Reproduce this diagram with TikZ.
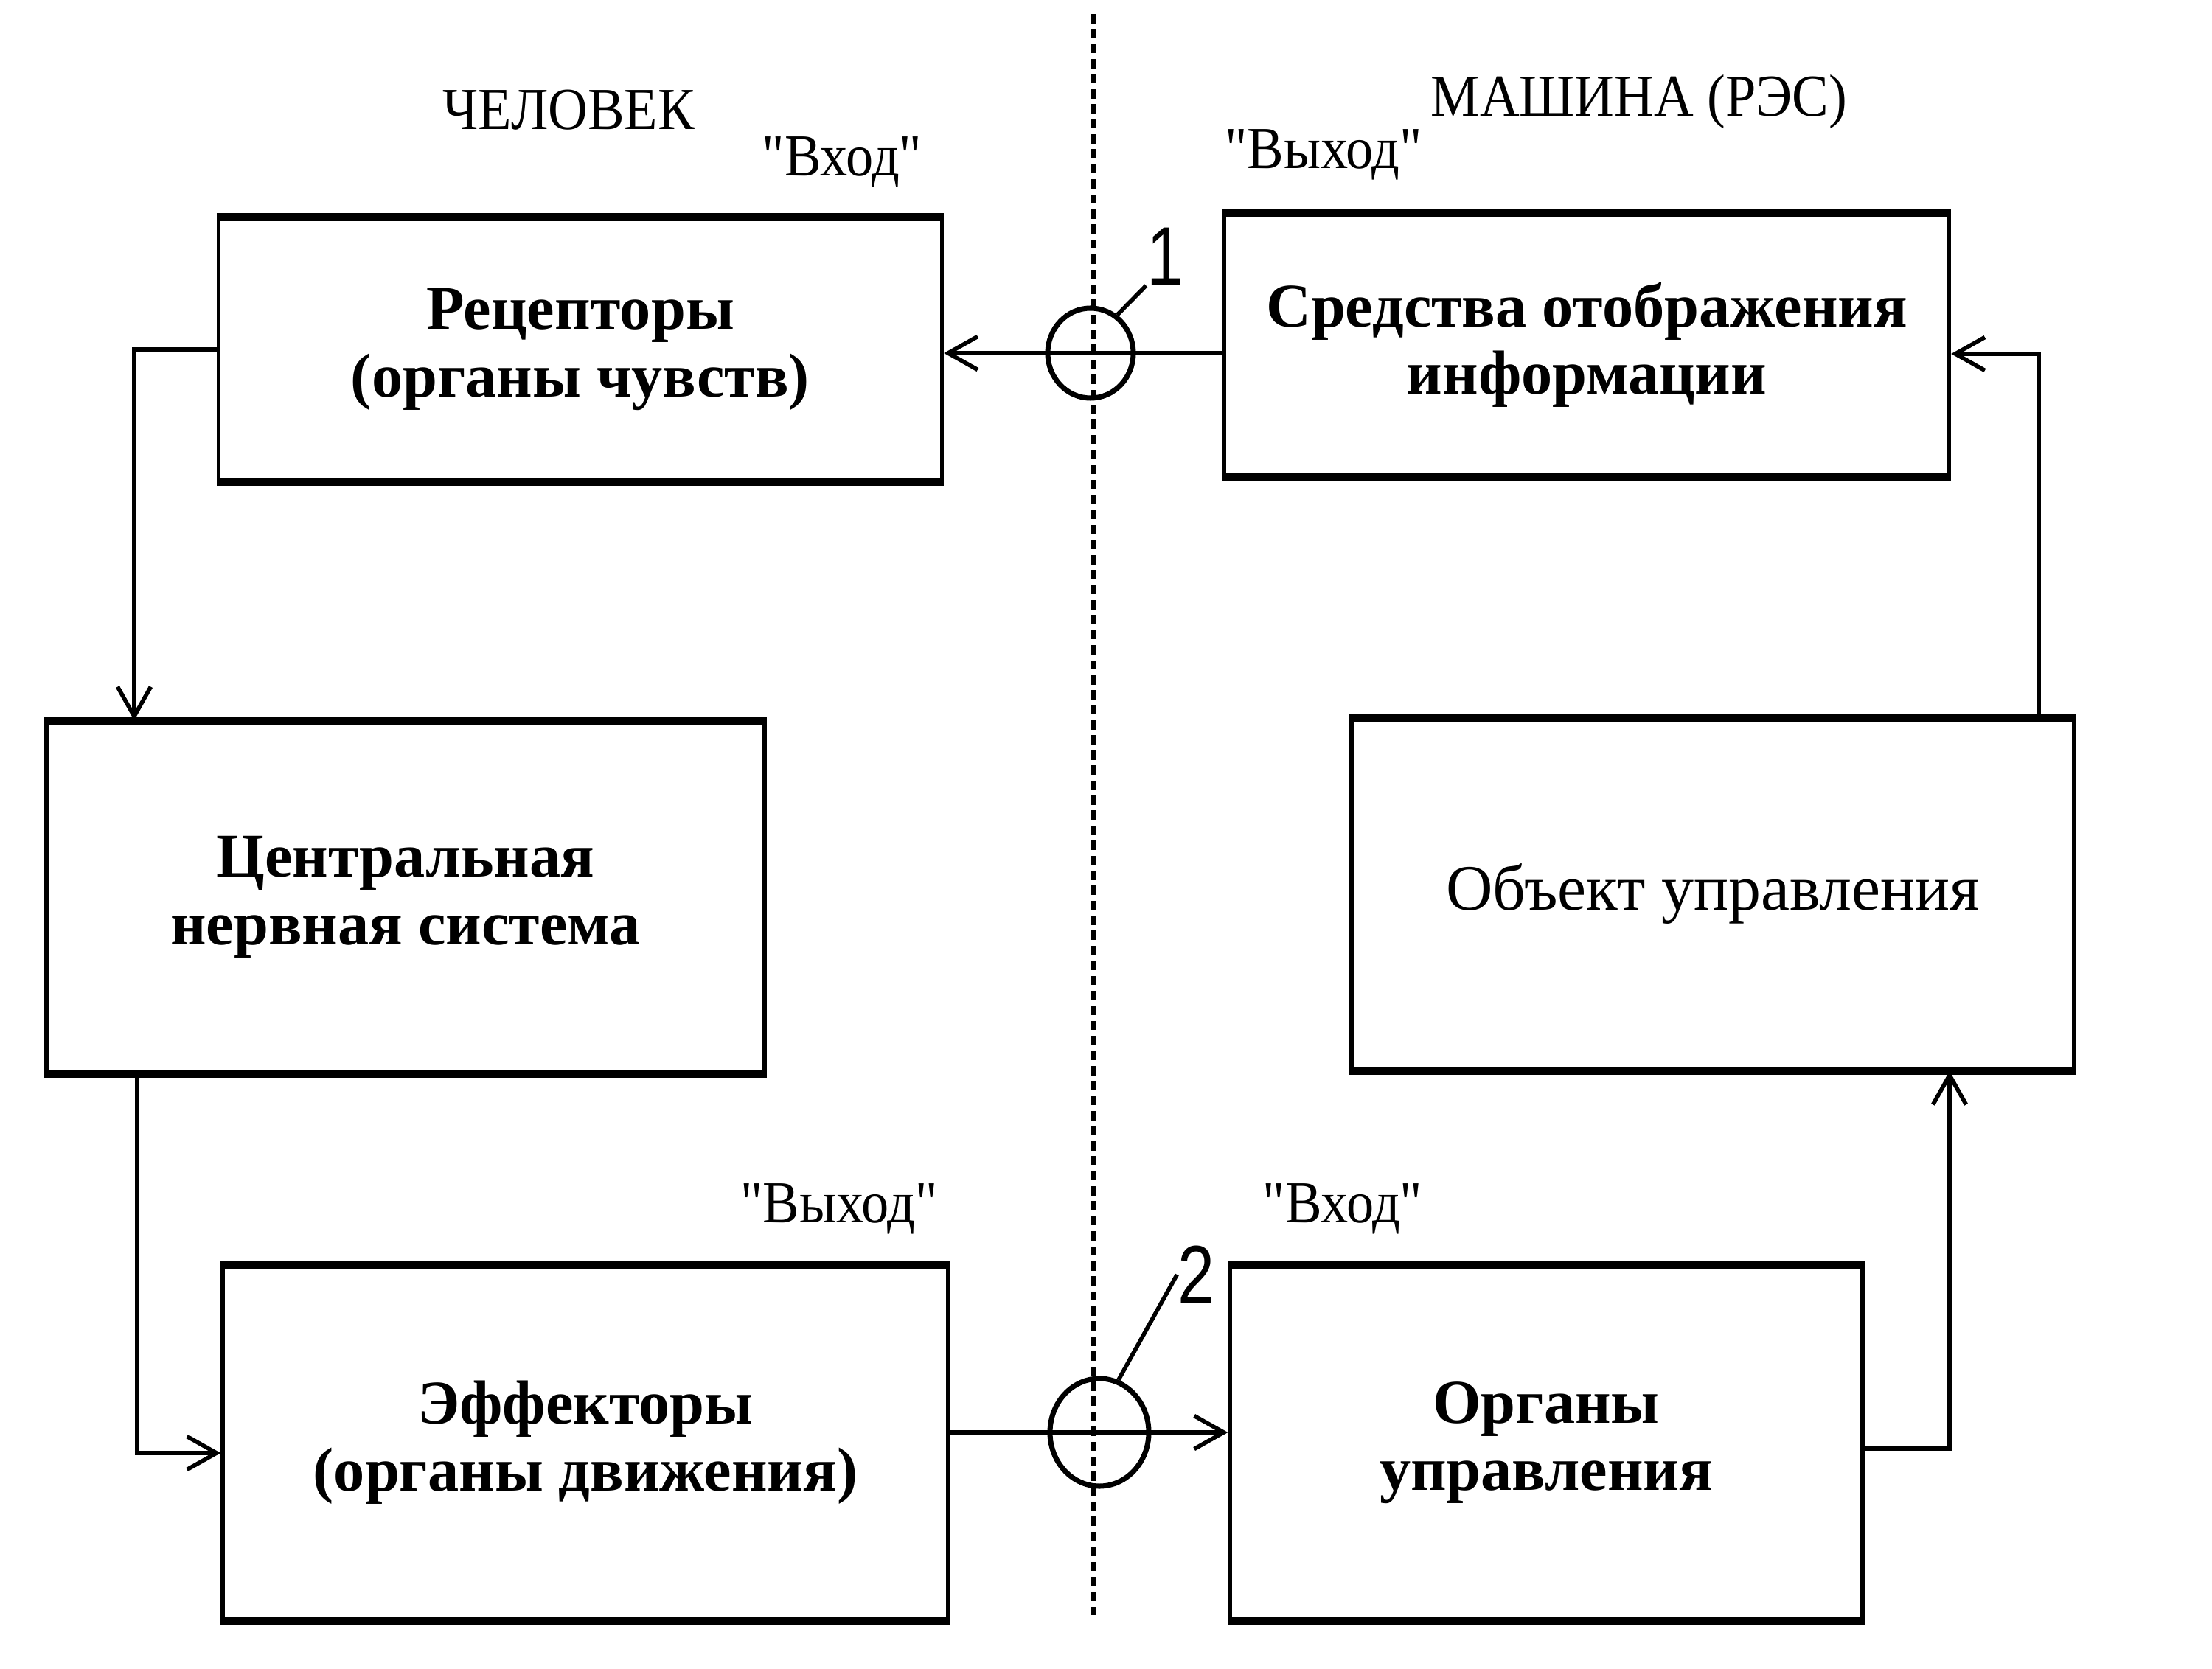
\documentclass[tikz,border=0pt]{standalone}
\usepackage{fontspec}
\setmainfont{Liberation Serif}
\newfontfamily\narrowfont[FakeStretch=0.92]{Liberation Serif}
\newfontfamily\numfont[FakeStretch=0.8]{Liberation Sans}
\usetikzlibrary{arrows.meta,shapes.geometric}

\begin{document}
\begin{tikzpicture}[
		>={Straight Barb[length=4mm,width=4.5mm]},
		blok/.style={draw, line width=1.5pt, align=center, font=\fontsize{24}{26}\selectfont\bfseries},
		svyaz/.style={line width=1.6pt},
		krug/.style={draw, ellipse, line width=2pt, inner sep=0pt},
		nadpis/.style={font=\narrowfont\fontsize{23}{25}\selectfont},
		nomer/.style={font=\numfont\fontsize{32}{32}\selectfont, inner sep=0pt},
	]
				\useasboundingbox (0,0) rectangle (30,-22.64);
				
				% dividing line
				\coordinate (razdA) at (14.83,-0.19);
				\coordinate (razdB) at (14.83,-21.91);
				\draw[line width=2.4pt, dash pattern=on 3.6pt off 2.2pt] (razdA) -- (razdB);
				
				% left side (human)
				\node[nadpis] (chel) at (7.71,-1.49) {ЧЕЛОВЕК};
				\node[nadpis] (vhA) at (11.42,-2.20) {"Вход"};
				\node[nadpis] (vyhB) at (11.38,-16.40) {"Выход"};
				\node[blok, minimum width=9.81cm, minimum height=3.54cm] (rec) at (7.87,-4.74) {Рецепторы\\(органы чувств)};
				\node[blok, minimum width=9.74cm, minimum height=4.74cm] (cns) at (5.50,-12.17) {Центральная\\нервная система};
				\node[blok, minimum width=9.84cm, minimum height=4.78cm] (eff) at (7.94,-19.57) {Эффекторы\\(органы движения)};
				
				% right side (machine)
				\node[nadpis] (mash) at (22.23,-1.38) {МАШИНА (РЭС)};
				\node[nadpis] (vyhA) at (17.95,-2.10) {"Выход"};
				\node[nadpis] (vhB) at (18.21,-16.40) {"Вход"};
				\node[blok, minimum width=9.83cm, minimum height=3.54cm] (sred) at (21.52,-4.68) {Средства отображения\\информации};
				\node[blok, minimum width=9.80cm, minimum height=4.74cm, font=\fontsize{25}{27}\selectfont] (obj) at (23.23,-12.13) {Объект управления};
				\node[blok, minimum width=8.58cm, minimum height=4.78cm] (org) at (20.97,-19.57) {Органы\\управления};
				
				\foreach \n in
				{rec, cns, eff, sred, obj, org}{
					\draw[line width=3pt] (\n.north west) -- (\n.north east);
					\draw[line width=3pt] (\n.south west) -- (\n.south east);
				}
				
				% bends
				\coordinate (p1) at (1.82,-4.74);
				\coordinate (p2) at (1.86,-19.71);
				\coordinate (p3) at (26.44,-19.65);
				\coordinate (p4) at (27.65,-4.80);
				
				% crossing points
				\node[krug, minimum width=1.16cm, minimum height=1.22cm] (k1) at (14.79,-4.79) {};
				\node[krug, minimum width=1.34cm, minimum height=1.46cm] (k2) at (14.91,-19.43) {};
				\node[nomer] (n1) at (15.80,-3.48) {1};
				\node[nomer] (n2) at (16.22,-17.29) {2};
				\draw[svyaz] (k1.55) -- (n1.south west);
				\draw[svyaz] (k2.70) -- (n2.west);
				
				\draw[svyaz,->] (sred.west |- k1) -- (rec.east |- k1);
				\draw[svyaz,->] (rec.west) -- (p1) -- (p1 |- cns.north);
				\draw[svyaz,->] (p2 |- cns.south) -- (p2) -- (p2 -| eff.west);
				\draw[svyaz,->] (eff.east |- k2) -- (org.west |- k2);
				\draw[svyaz,->] (p3 -| org.east) -- (p3) -- (p3 |- obj.south);
				\draw[svyaz,->] (p4 |- obj.north) -- (p4) -- (p4 -| sred.east);
\end{tikzpicture}
\end{document}
